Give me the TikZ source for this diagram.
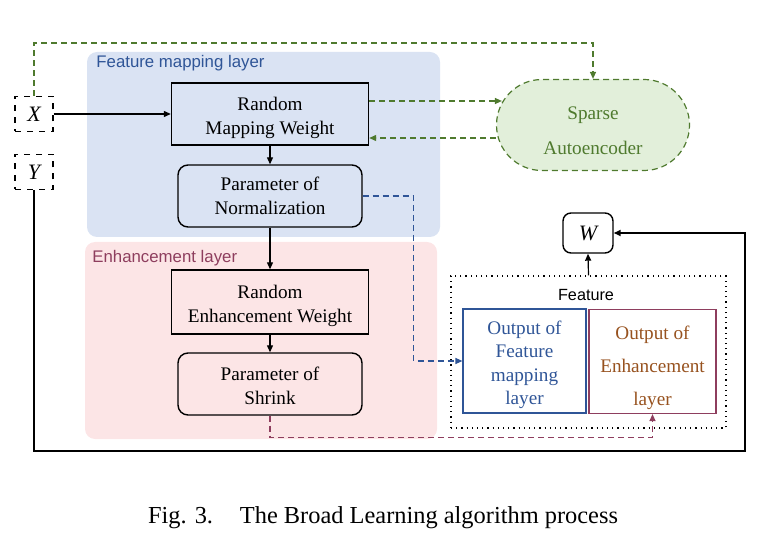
\documentclass[tikz,border=0pt]{standalone}
\usepackage{fontspec}
\setmainfont{Liberation Serif}
\setsansfont{Liberation Sans}
\usetikzlibrary{arrows.meta,shapes.misc,positioning}
\definecolor{fmfill}{HTML}{DAE3F3}
\definecolor{enfill}{HTML}{FCE5E6}
\definecolor{fmblue}{HTML}{2F5597}
\definecolor{enpink}{HTML}{8E3E5E}
\definecolor{saline}{HTML}{4F7A2E}
\definecolor{safill}{HTML}{E2EFDA}
\definecolor{enbrown}{HTML}{97521F}
\newcommand{\topgap}[1]{\rule{0pt}{#1}}
\begin{document}
\begin{tikzpicture}[
		x=0.5pt, y=-0.5pt,
		every node/.style={inner sep=0, align=center, font=\fontsize{9.6}{12}\selectfont},
		layer/.style={rounded corners=5pt, draw=none},
		block/.style={draw, line width=0.7pt, minimum width=98.5pt, minimum height=31pt},
		param/.style={draw, line width=0.7pt, rounded corners=5pt, minimum width=92pt, minimum height=31pt},
		var/.style={draw, dashed, line width=0.6pt, minimum width=19pt, minimum height=17.5pt, font=\fontsize{11}{13}\selectfont\itshape},
		outbox/.style={draw, line width=0.6pt, minimum height=52pt},
		tip/.style={-{Triangle[length=3.5pt,width=3pt]}},
		arr/.style={tip, line width=0.6pt},
		garr/.style={tip, saline, line width=0.6pt, dash pattern=on 3pt off 2pt},
		barr/.style={tip, fmblue, line width=0.6pt, dash pattern=on 3pt off 2pt},
		parr/.style={tip, enpink, line width=0.6pt, dash pattern=on 3pt off 2pt},
	]
	\useasboundingbox (0,0) rectangle (780,550);
	\node[layer, fill=fmfill, minimum width=176.5pt, minimum height=92.5pt] (fmbg) at (263.5,144.5) {};
	\node[layer, fill=enfill, minimum width=176pt, minimum height=98.5pt] (enbg) at (261,340.5) {};
	\node[anchor=west, text=fmblue, font=\sffamily\fontsize{8.4}{10}\selectfont] (fmlabel) at (96,63) {Feature mapping layer};
	\node[anchor=west, text=enpink, font=\sffamily\fontsize{8.4}{10}\selectfont] (enlabel) at (92,258) {Enhancement layer};

	\node[block] (rmw) at (270,114) {\topgap{10.6pt}Random\\Mapping Weight};
	\node[param] (pon) at (270,196) {Parameter of\\Normalization};
	\node[block, minimum height=32pt] (rew) at (270,302) {\topgap{10.6pt}Random\\Enhancement Weight};
	\node[param] (pos) at (270,384) {\topgap{8.1pt}Parameter of\\Shrink};

	\node[var] (X) at (34,114) {X};
	\node[var] (Y) at (34,172) {Y};

	\node[rounded rectangle, draw=saline, fill=safill, line width=0.6pt, dash pattern=on 3pt off 2pt,
		minimum width=96.5pt, minimum height=45.5pt, text=saline,
		font=\fontsize{9.6}{17.5}\selectfont] (sae) at (593,125) {\topgap{12pt}Sparse\\Autoencoder};

	\node[draw, rounded corners=4pt, line width=0.7pt, minimum width=25pt, minimum height=20pt,
		font=\fontsize{11}{13}\selectfont\itshape] (W) at (588,233) {W};

	\node[draw, dotted, line width=0.6pt, minimum width=137.5pt, minimum height=76pt] (feat) at (588.5,352) {};
	\node[font=\sffamily\fontsize{8.1}{10}\selectfont] (featlabel) at (586,295) {Feature};
	\node[outbox, draw=fmblue, text=fmblue, minimum width=61.5pt,
		font=\fontsize{9.6}{11.7}\selectfont] (ofm) at (524.5,361) {\topgap{10.6pt}Output of\\Feature\\mapping\\layer};
	\node[outbox, draw=enpink, text=enbrown, minimum width=63.5pt,
		font=\fontsize{9.6}{16.5}\selectfont] (oel) at (652.5,361.5) {\topgap{12.6pt}Output of\\Enhancement\\layer};

	\coordinate (gtop) at (34,43);
	\coordinate (loopR) at (745,451);

	\draw[arr] (X) -- (rmw);
	\draw[arr] (rmw) -- (pon);
	\draw[arr] (pon) -- (rew);
	\draw[arr] (rew) -- (pos);
	\draw[garr] (X.north) -- (gtop) -| (sae.north);
	\draw[garr, shorten >=-3pt] ([yshift=6.5pt]rmw.east) -- ([yshift=6.5pt]rmw.east -| sae.west);
	\draw[garr] ([yshift=-6.5pt]sae.west) -- ([yshift=-6.5pt]sae.west -| rmw.east);
	\draw[barr] (pon.east) -- ++(51,0) |- (ofm.west);
	\draw[parr] (pos.south) -- ++(0,22) -| (oel.south);
	\draw[arr] (feat.north) -- (W.south);
	\draw[arr, line width=0.8pt] (Y.south) |- (loopR) |- (W.east);

	\node[font=\fontsize{12.2}{14}\selectfont] (caption) at (383,518) {Fig. 3.\hspace{1.1em}The Broad Learning algorithm process};
\end{tikzpicture}
\end{document}
